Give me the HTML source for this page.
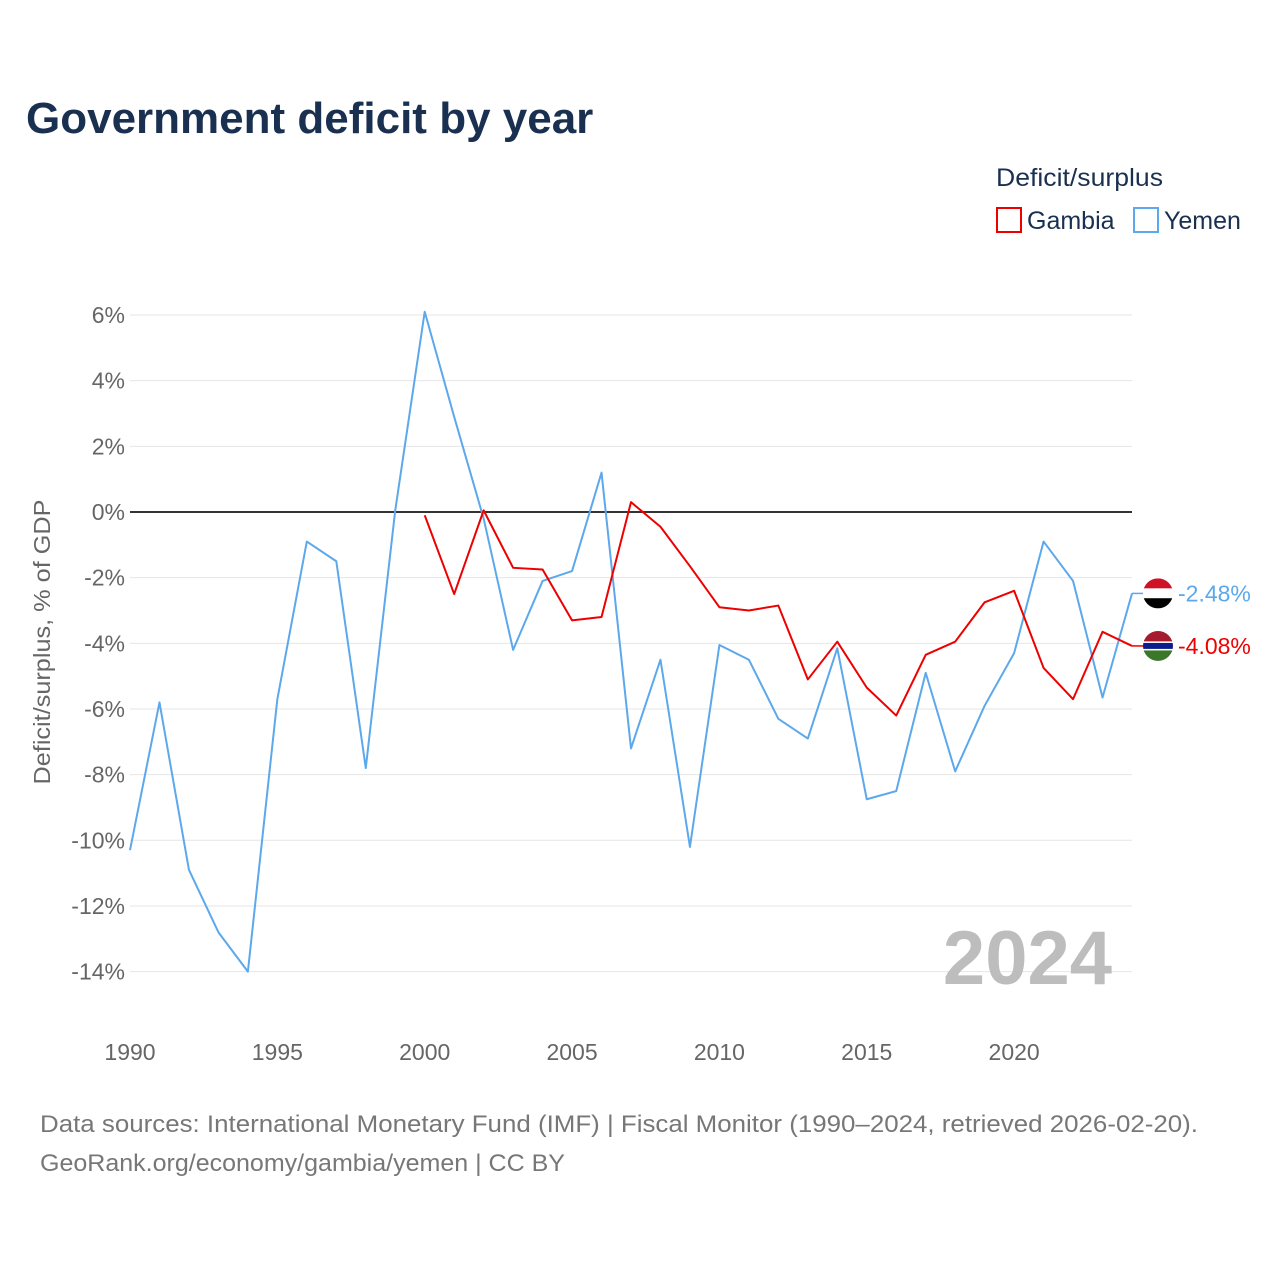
<!DOCTYPE html>
<html><head><meta charset="utf-8"><style>
body{margin:0;background:#fff;font-family:"Liberation Sans",sans-serif;}
#wrap{position:relative;width:1280px;height:1280px;overflow:hidden;}
</style></head><body>
<div id="wrap">
<svg id="svg" width="1280" height="1280" xmlns="http://www.w3.org/2000/svg">
<text x="26" y="133" font-size="44" font-weight="bold" fill="#1a3050">Government deficit by year</text>
<text x="996" y="186" font-size="25" fill="#1a3050" textLength="167" lengthAdjust="spacingAndGlyphs">Deficit/surplus</text>
<g><rect x="997" y="208" width="24" height="24" fill="none" stroke="#e00" stroke-width="2"/><text x="1027" y="229" font-size="25" fill="#1a3050">Gambia</text></g>
<g><rect x="1134" y="208" width="24" height="24" fill="none" stroke="#5ca8ec" stroke-width="2"/><text x="1164" y="229" font-size="25" fill="#1a3050">Yemen</text></g>
<g id="grid"></g>
<g id="yticks"></g>
<g id="xticks"></g>
<text transform="translate(50,642) rotate(-90)" text-anchor="middle" font-size="23" fill="#666" textLength="285" lengthAdjust="spacingAndGlyphs">Deficit/surplus, % of GDP</text>
<text x="1112" y="984" text-anchor="end" font-size="76" font-weight="bold" fill="#bdbdbd">2024</text>
<g id="series"></g>
<text x="40" y="1132" font-size="24" fill="#777" textLength="1158" lengthAdjust="spacingAndGlyphs">Data sources: International Monetary Fund (IMF) | Fiscal Monitor (1990–2024, retrieved 2026-02-20).</text>
<text x="40" y="1171" font-size="24" fill="#777" textLength="525" lengthAdjust="spacingAndGlyphs">GeoRank.org/economy/gambia/yemen | CC BY</text>
</svg>
</div>
<script>
const yTicks=[6,4,2,0,-2,-4,-6,-8,-10,-12,-14];
const xTicks=[1990,1995,2000,2005,2010,2015,2020];
const yemenYears=[1990,1991,1992,1993,1994,1995,1996,1997,1998,1999,2000,2001,2002,2003,2004,2005,2006,2007,2008,2009,2010,2011,2012,2013,2014,2015,2016,2017,2018,2019,2020,2021,2022,2023,2024];
const yemenValues=[-10.3,-5.8,-10.9,-12.8,-14.0,-5.7,-0.9,-1.5,-7.8,0.05,6.1,2.9,-0.2,-4.2,-2.1,-1.8,1.2,-7.2,-4.5,-10.2,-4.05,-4.5,-6.3,-6.9,-4.15,-8.75,-8.5,-4.9,-7.9,-5.9,-4.3,-0.9,-2.1,-5.65,-2.48];
const gambiaYears=[2000,2001,2002,2003,2004,2005,2006,2007,2008,2009,2010,2011,2012,2013,2014,2015,2016,2017,2018,2019,2020,2021,2022,2023,2024];
const gambiaValues=[-0.1,-2.5,0.05,-1.7,-1.75,-3.3,-3.2,0.3,-0.45,-1.65,-2.9,-3.0,-2.85,-5.1,-3.95,-5.35,-6.2,-4.35,-3.95,-2.75,-2.4,-4.75,-5.7,-3.65,-4.08];
const NS='http://www.w3.org/2000/svg';
const X=y=>130+(y-1990)*(1002/34);
const Y=v=>512-v*32.83;
function mk(t,a,p){const e=document.createElementNS(NS,t);for(const k in a)e.setAttribute(k,a[k]);p.appendChild(e);return e;}
const grid=document.getElementById('grid'),yt=document.getElementById('yticks'),xt=document.getElementById('xticks'),ser=document.getElementById('series');
yTicks.forEach(v=>{
 const l=mk('line',{x1:130,x2:1132,y1:Y(v),y2:Y(v),stroke:v===0?'#333':'#e6e6e6','stroke-width':v===0?2:1},grid);
 
 
 const t=mk('text',{x:125,y:Y(v)+8,'text-anchor':'end','font-size':23,fill:'#666'},yt);
 t.textContent=v+'%';
 
 
});
xTicks.forEach(y=>{
 const t=mk('text',{x:X(y),y:1060,'text-anchor':'middle','font-size':23,fill:'#666'},xt);
 t.textContent=y;
 
 
});
function line(ys,vs,c,name){
 const p=mk('polyline',{points:ys.map((y,i)=>X(y)+','+Y(vs[i])).join(' '),fill:'none',stroke:c,'stroke-width':2,'stroke-linejoin':'round'},ser);
 
 
}
line(yemenYears,yemenValues,'#5ca8ec','yemen-line');
line(gambiaYears,gambiaValues,'#e00','gambia-line');
function endLabel(v,c,name,stripes){
 const y=Y(v),cx=1158;
 mk('line',{x1:1132,x2:cx-14,y1:y,y2:y,stroke:c,'stroke-width':1.5},ser);
 const g=mk('g',{},ser);
 
 
 const id='c'+name;
 const cp=mk('clipPath',{id:id},g);mk('circle',{cx:cx,cy:y,r:15},cp);
 const gg=mk('g',{'clip-path':'url(#'+id+')'},g);
 stripes.forEach(s=>mk('rect',{x:cx-15,y:y-15+s[0]*30,width:30,height:s[1]*30,fill:s[2]},gg));
 const t=mk('text',{x:1178,y:y+8,'font-size':23,fill:c},ser);
 t.textContent=v.toFixed(2)+'%';
 
 
}
endLabel(yemenValues[yemenValues.length-1],'#5ca8ec','yemen',[[0,0.34,'#ce1126'],[0.33,0.34,'#fff'],[0.66,0.34,'#000']]);
endLabel(gambiaValues[gambiaValues.length-1],'#e00','gambia',[[0,0.35,'#a51c30'],[0.35,0.06,'#fff'],[0.4,0.2,'#0c1c8c'],[0.6,0.06,'#fff'],[0.65,0.35,'#3a7728']]);
</script>
</body></html>
